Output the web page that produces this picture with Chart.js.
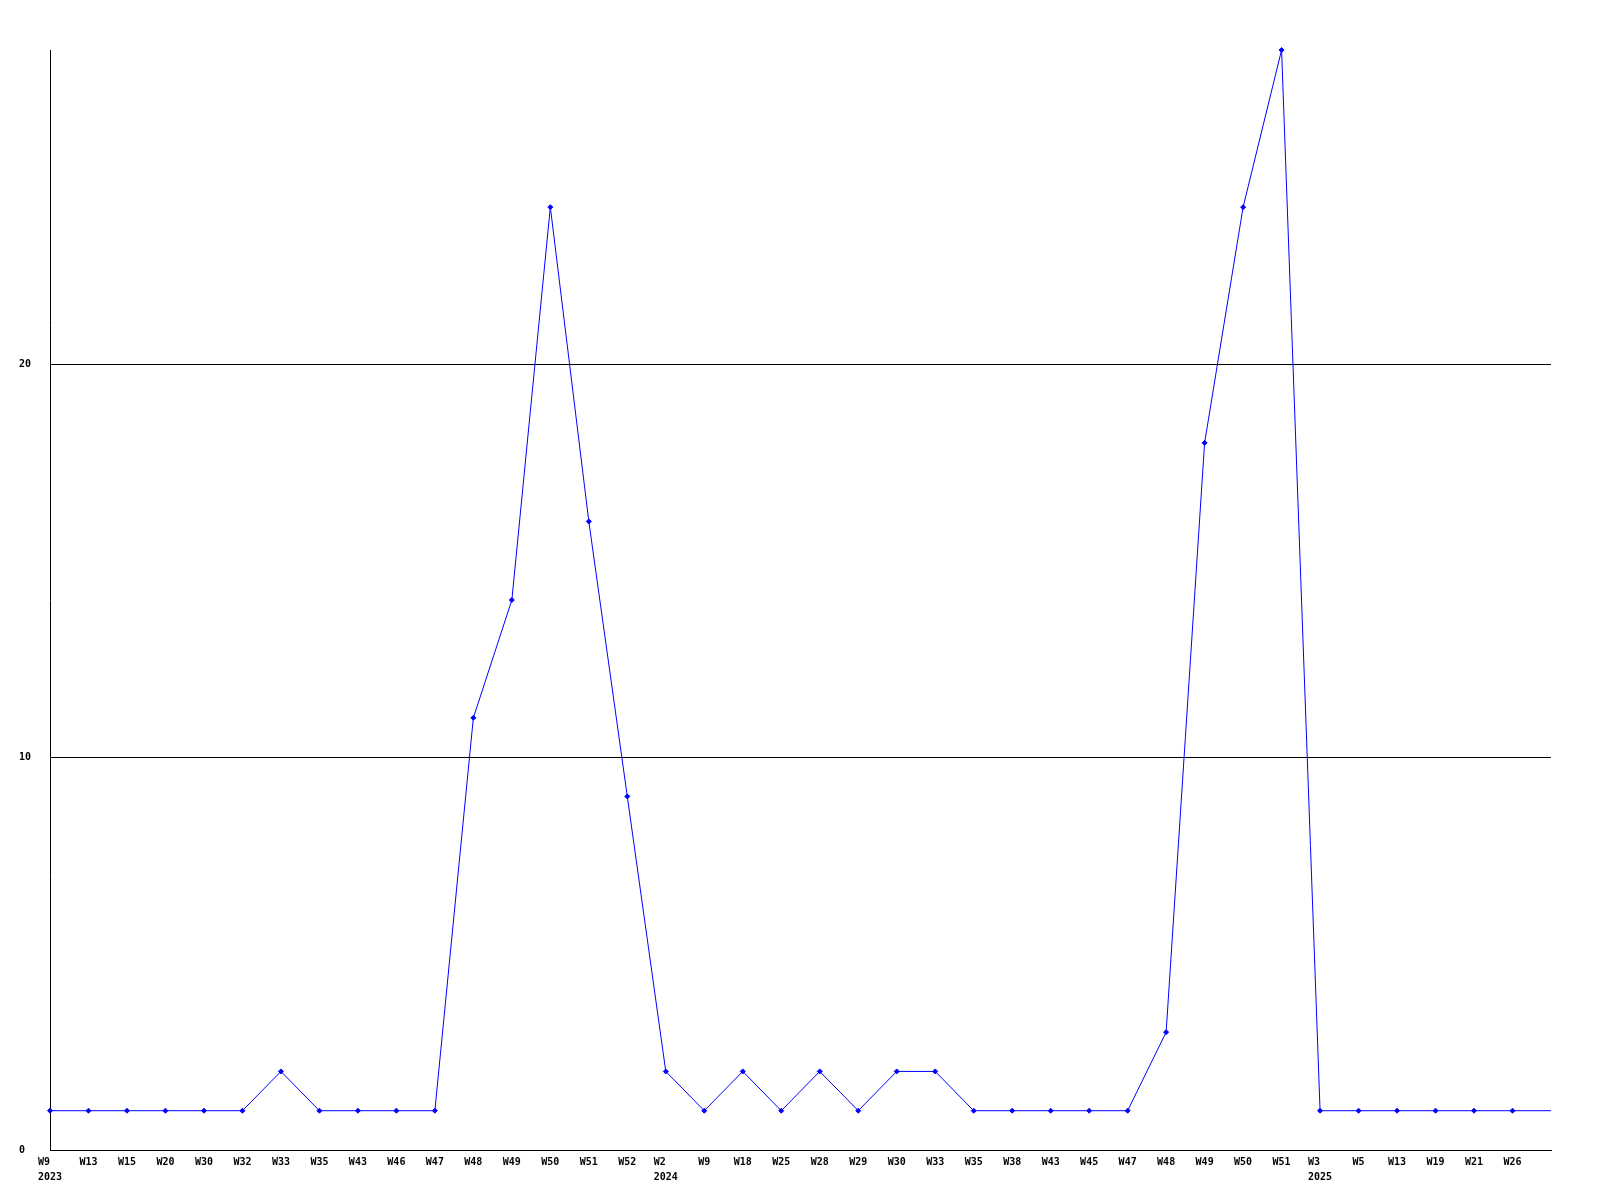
<!DOCTYPE html>
<html>
<head>
<meta charset="utf-8">
<script src="https://cdn.jsdelivr.net/npm/chart.js@4/dist/chart.umd.min.js"></script>
<style>
html,body{margin:0;padding:0;background:#fff;}
canvas{display:block;}
</style>
</head>
<body>
<canvas id="c" width="1600" height="1200"></canvas>
<script>
// Week labels (year shown under the first week of each year)
const weeks = [
  ['W9  ','2023'],'W13','W15','W20','W30','W32','W33','W35','W43','W46','W47','W48','W49','W50','W51','W52',
  ['W2  ','2024'],'W9','W18','W25','W28','W29','W30','W33','W35','W38','W43','W45','W47','W48','W49','W50','W51',
  ['W3  ','2025'],'W5','W13','W19','W21','W26',''
];
const counts = [
  1,1,1,1,1,1,2,1,1,1,1,11,14,24,16,9,
  2,1,2,1,2,1,2,2,1,1,1,1,1,3,18,24,28,
  1,1,1,1,1,1,1
];
const yTicks = [0,10,20];
const yMax = 28;

const fontSpec = {family: "'DejaVu Sans Mono', monospace", size: 10, weight: 'bold', lineHeight: 1.5};
const radii = counts.map((v,i) => i === counts.length-1 ? 0 : 2.5);

new Chart(document.getElementById('c'), {
  type: 'line',
  data: {
    labels: weeks,
    datasets: [{
      data: counts,
      borderColor: '#0000ff',
      backgroundColor: '#0000ff',
      borderWidth: 1,
      tension: 0,
      pointStyle: 'rectRot',
      pointRadius: radii,
      pointHoverRadius: radii,
      pointBorderWidth: 1,
      clip: false
    }]
  },
  options: {
    responsive: false,
    animation: false,
    events: [],
    layout: {padding: {left: 19, right: 49, top: 50, bottom: 0}},
    plugins: {legend: {display: false}, tooltip: {enabled: false}},
    scales: {
      x: {
        offset: false,
        grid: {display: false, drawTicks: false},
        border: {display: true, color: '#000', width: 1},
        ticks: {
          autoSkip: false, maxRotation: 0, minRotation: 0,
          color: '#000', font: fontSpec, padding: 5
        },
        afterFit: s => { s.height = 50; }
      },
      y: {
        min: 0, max: yMax,
        grid: {color: '#000', lineWidth: 1, drawTicks: false},
        border: {display: true, color: '#000', width: 1},
        ticks: {
          stepSize: 10, includeBounds: false, crossAlign: 'far',
          color: '#000', font: {family: fontSpec.family, size: 10, weight: 'bold'}, padding: 0
        },
        afterBuildTicks: s => { s.ticks = yTicks.map(v => ({value: v})); },
        afterFit: s => { s.width = 31; }
      }
    }
  }
});
</script>
</body>
</html>
